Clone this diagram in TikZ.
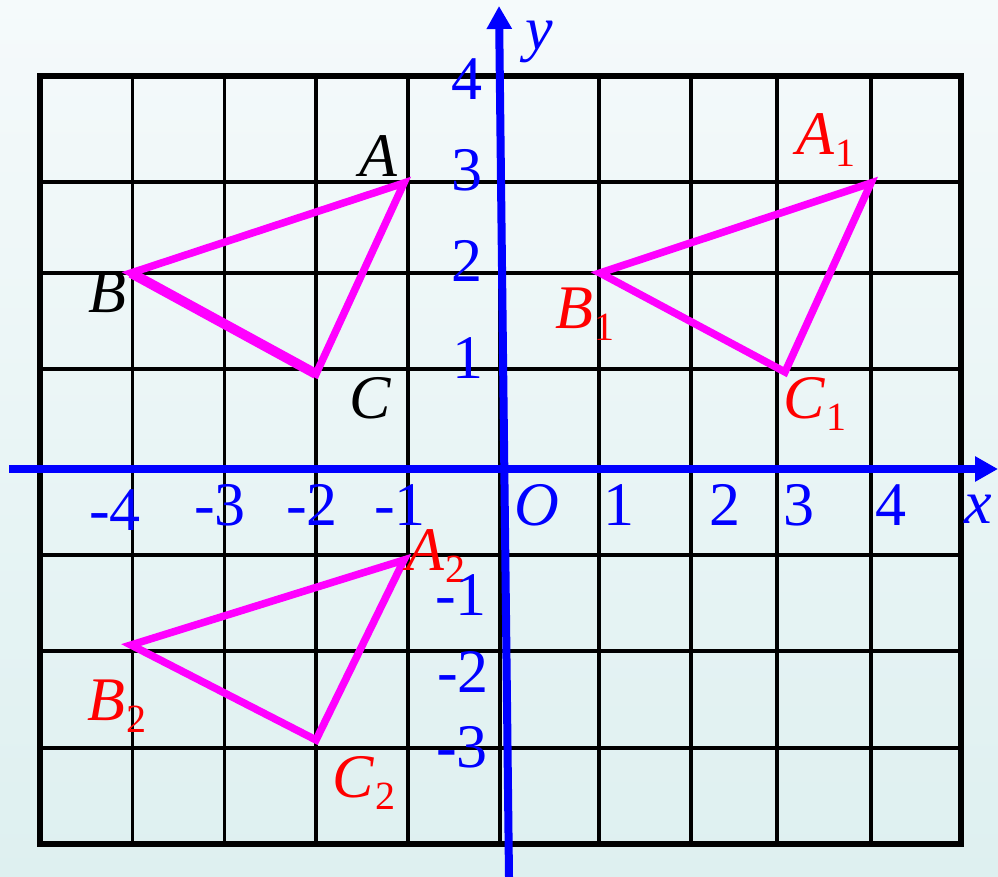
\documentclass[tikz,border=0pt]{standalone}
\usepackage{fontspec}
\setmainfont{Liberation Serif}
\usetikzlibrary{arrows.meta}
\definecolor{trimag}{RGB}{255,0,255}
\definecolor{labred}{RGB}{255,0,0}
\definecolor{axblue}{RGB}{0,0,255}
\newcommand\subsc[1]{\kern1pt\raisebox{-12pt}{\fontsize{40}{40}\selectfont\upshape #1}}
\begin{document}
\begin{tikzpicture}[x=1pt,y=-1pt,
  gridline/.style={black,line width=3.2pt},
  frameline/.style={black,line width=5.5pt},
  tri/.style={trimag,line width=7.5pt},
  axisline/.style={axblue,line width=8pt,-{Triangle[length=23pt,width=24pt]}},
  num/.style={axblue,inner sep=0pt,anchor=base,font=\fontsize{62}{62}\selectfont},
  ptlab/.style={inner sep=0pt,anchor=base,font=\fontsize{62}{62}\selectfont\itshape},
]
\shade[top color={rgb,255:red,245;green,250;blue,251},bottom color={rgb,255:red,222;green,240;blue,240}] (0,0) rectangle (998,877);
\useasboundingbox (0,0) rectangle (998,877);
% grid
\foreach \gx in {132.5,224.5,316,408,500,599,691,777,871}
  \draw[gridline] (\gx,76) -- (\gx,844);
\foreach \gy in {182,273,369,469,555,651,748}
  \draw[gridline] (40,\gy) -- (961,\gy);
\draw[frameline] (40,76) rectangle (961,844);
% triangles
\coordinate (A) at (404,183);
\coordinate (B) at (131,273);
\coordinate (C) at (316,374);
\coordinate (A1) at (871,183);
\coordinate (B1) at (600,273);
\coordinate (C1) at (785,372);
\coordinate (A2) at (404,560);
\coordinate (B2) at (131,645);
\coordinate (C2) at (316,740);
\draw[tri] (A) -- (B) -- (C) -- cycle;
\draw[tri,line width=10pt] (B) -- (C);
\draw[tri] (A1) -- (B1) -- (C1) -- cycle;
\draw[tri] (A2) -- (B2) -- (C2) -- cycle;
% axes
\coordinate (xs) at (9,469);
\coordinate (xe) at (998,469);
\coordinate (ys) at (509,877);
\coordinate (ye) at (499,6);
\draw[axisline] (xs) -- (xe);
\draw[axisline] (ys) -- (ye);
% point labels
\node[ptlab] (lA) at (378,177) {A};
\node[ptlab] (lB) at (107,312) {B};
\node[ptlab] (lC) at (370,418) {C};
\node[ptlab,labred] (lA1) at (826,155) {A\subsc{1}};
\node[ptlab,labred] (lB1) at (585,328) {B\subsc{1}};
\node[ptlab,labred] (lC1) at (815,418) {C\subsc{1}};
\node[ptlab,labred] (lA2) at (436,570) {A\subsc{2}};
\node[ptlab,labred] (lB2) at (117,720) {B\subsc{2}};
\node[ptlab,labred] (lC2) at (364,797) {C\subsc{2}};
% y-axis numbers
\node[num] (y4) at (467,100) {4};
\node[num] (y3) at (467,191) {3};
\node[num] (y2) at (467,282) {2};
\node[num] (y1) at (468,378) {1};
\node[num] (ym1) at (461,615) {-1};
\node[num] (ym2) at (463,692) {-2};
\node[num] (ym3) at (462,767) {-3};
% x-axis numbers
\node[num] (xm4) at (115,530) {-4};
\node[num] (xm3) at (220,525) {-3};
\node[num] (xm2) at (312,525) {-2};
\node[num] (xm1) at (400,525) {-1};
\node[ptlab,axblue] (o) at (537,525) {O};
\node[num] (x1) at (619,525) {1};
\node[num] (x2) at (725,525) {2};
\node[num] (x3) at (799,525) {3};
\node[num] (x4) at (891,525) {4};
\node[ptlab,axblue] (xl) at (978,523) {x};
\node[ptlab,axblue] (yl) at (539,50) {y};
\end{tikzpicture}
\end{document}
